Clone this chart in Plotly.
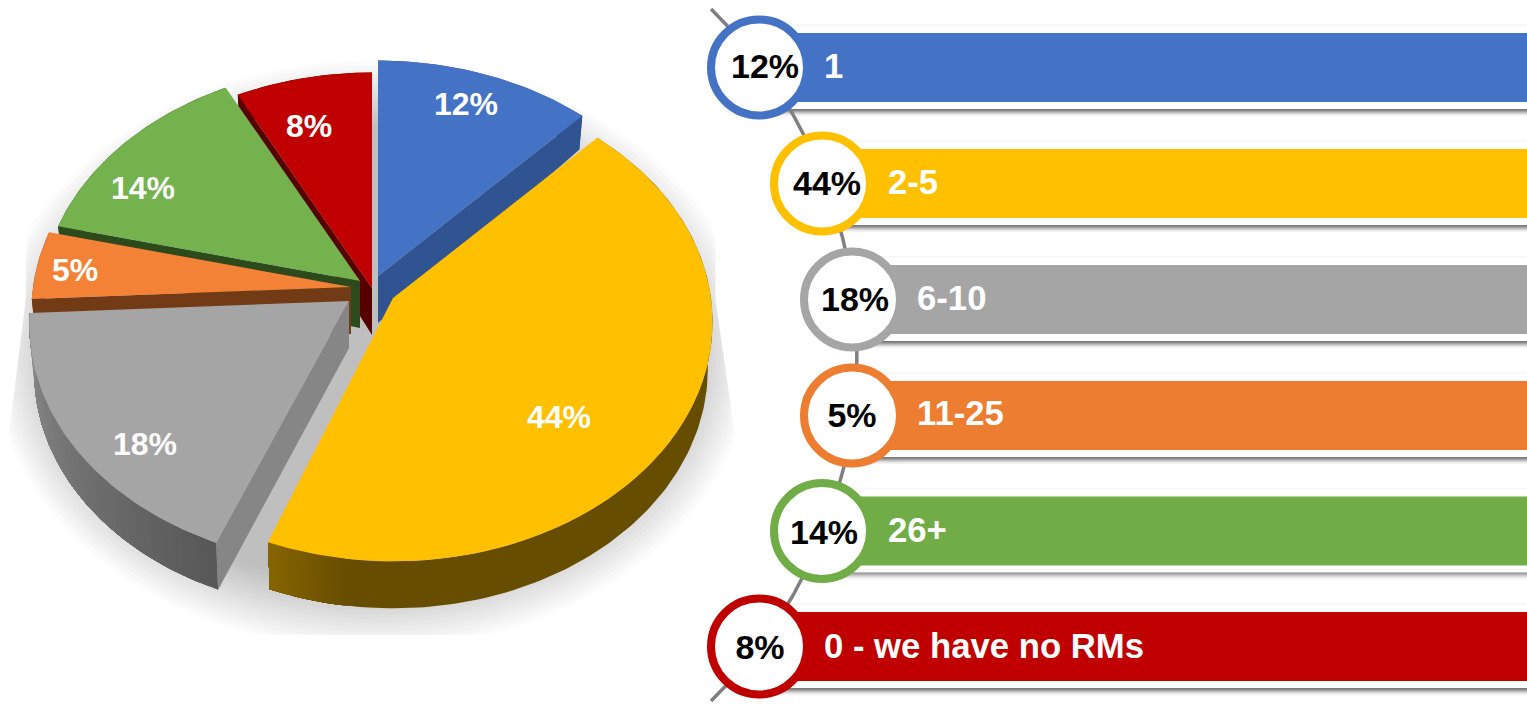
import math
import plotly.graph_objects as go

# ---- data ----
bar_labels = ["1", "2-5", "6-10", "11-25", "26+", "0 - we have no RMs"]
pct_labels = ["12%", "44%", "18%", "5%", "14%", "8%"]
shares = [12.1, 43.7, 18.4, 4.6, 13.6, 7.6]
start_nudge = [0, 0, 1.4, 0, 0, 0]
top_colors = ["#4472C4", "#FFC000", "#A5A5A5", "#F38136", "#74B24E", "#C00000"]
bar_colors = ["#4472C4", "#FFC000", "#A5A5A5", "#ED7D31", "#70AD47", "#C00000"]
side_colors = ["#2F5491", "#6B5000", "#868686", "#723B16", "#2C4A1B", "#560000"]
rim_from = ["#2F5491", "#866500", "#8E8E8E", "#723B16", "#2C4A1B", "#560000"]
rim_to = ["#2F5491", "#674D00", "#585858", "#723B16", "#2C4A1B", "#560000"]

apex_x = [378, 393, 349, 351, 360, 372]
apex_y = [276, 298, 301, 287, 281, 288]
pie_label_x = [466, 559, 145, 75, 143, 309]
pie_label_y = [107, 420, 447, 273, 191, 129]
side_wall_edge = ["end", None, "start", "start", "start", "start"]  # visible cut face of each slice
draw_order = [5, 0, 4, 3, 2, 1]

bar_left = [759, 822, 852, 852, 822, 759]
bar_center = [67.5, 183.5, 299.5, 415.5, 531, 646.5]
circle_label_x = [765, 827, 855, 852, 824, 760]
circle_label_y = [69, 186, 302, 418, 535, 650]
bar_label_x = [824, 888, 917, 917, 888, 824]
bar_label_y = [69, 185, 301, 416, 533, 649]

W, H = 1527, 704
RX, RY, PERSP, DEPTH = 318, 237, 0.10, 47


def rim(theta_deg):
    t = math.radians(theta_deg)
    s = 1 / (1 + PERSP * math.cos(t))
    return RX * math.sin(t) * s, -RY * math.cos(t) * s


def lower(theta_deg):
    x, y = rim(theta_deg)
    d = DEPTH - 18 * max(0.0, math.cos(math.radians(theta_deg)))
    return x * 0.985, y + d


def hex_mix(a, b, f):
    ca = [int(a[i:i + 2], 16) for i in (1, 3, 5)]
    cb = [int(b[i:i + 2], 16) for i in (1, 3, 5)]
    return "#%02x%02x%02x" % tuple(round(p + (q - p) * f) for p, q in zip(ca, cb))


def poly(fig, xs, ys, color):
    fig.add_trace(go.Scatter(x=xs, y=ys, mode="lines", fill="toself", fillcolor=color,
                             line=dict(color="rgba(0,0,0,0)", width=0), hoverinfo="skip", showlegend=False))


fig = go.Figure()

# soft shadow under the pie
SC_X, SC_Y, S_RX, S_RY = 372, 355, 347, 262


def clamp_shadow(x, y):
    y = min(y, 635)
    y_ref = max(y, 300)
    xl = 22 - (y_ref - 330) * 15 / 117
    xr = 720 + (y_ref - 330) * 17 / 117
    return min(max(x, xl), xr), y


layers = 16
for i in range(layers):
    grow = 32 - i * 64 / (layers - 1)
    xs, ys = [], []
    for a in range(0, 361, 3):
        t = math.radians(a)
        px, py = clamp_shadow(SC_X + (S_RX + grow) * math.cos(t), SC_Y + (S_RY + grow) * math.sin(t))
        xs.append(px)
        ys.append(py)
    poly(fig, xs, ys, "rgba(0,0,0,0.015)")

# pie slices
total = sum(shares)
edges = [0.0]
for v in shares:
    edges.append(edges[-1] + 360 * v / total)

for i in draw_order:
    a0, a1 = edges[i] + start_nudge[i], edges[i + 1]
    ax, ay = apex_x[i], apex_y[i]
    # cut face
    if side_wall_edge[i]:
        a = a0 if side_wall_edge[i] == "start" else a1
        rx_, ry_ = rim(a)
        lx, ly = lower(a)
        poly(fig, [ax, ax + rx_, ax + lx, ax, ax],
             [ay, ay + ry_, ay + ly, ay + DEPTH, ay], side_colors[i])
    # outer wall: each strip overlaps the remainder of the wall, so no seams show
    n = 40 if rim_from[i] != rim_to[i] else 1
    for k in range(n):
        if i == 1:  # yellow: only its left end is lighter
            b0 = 187 + (a1 - 187) * k / n
            start = a0 if k == 0 else b0
            col = hex_mix(rim_to[i], rim_from[i], k / max(1, n - 1))
        else:
            start = a0 + (a1 - a0) * k / n
            col = hex_mix(rim_to[i], rim_from[i], (start - a0) / (a1 - a0))
        end = a1
        m = max(3, int(end - start))
        arc = [start + (end - start) * q / m for q in range(m + 1)]
        xs = [ax + rim(b)[0] for b in arc] + [ax + lower(b)[0] for b in reversed(arc)]
        ys = [ay + rim(b)[1] for b in arc] + [ay + lower(b)[1] for b in reversed(arc)]
        poly(fig, xs + xs[:1], ys + ys[:1], col)
    # top face
    steps = max(3, int(a1 - a0))
    arc = [a0 + (a1 - a0) * q / steps for q in range(steps + 1)]
    xs = [ax] + [ax + rim(b)[0] for b in arc] + [ax]
    ys = [ay] + [ay + rim(b)[1] for b in arc] + [ay]
    poly(fig, xs, ys, top_colors[i])

fig.add_trace(go.Scatter(x=pie_label_x, y=pie_label_y, mode="text", text=pct_labels,
                         textfont=dict(family="Liberation Sans", size=32, color="white", weight="bold"),
                         textposition="middle center", hoverinfo="skip", showlegend=False))

# right-hand list: bars
for i, name in enumerate(bar_labels):
    fig.add_trace(go.Bar(y=[bar_center[i]], x=[W - bar_left[i]], base=[bar_left[i]], width=[69],
                         orientation="h", marker=dict(color=bar_colors[i], line=dict(width=0)),
                         hoverinfo="skip", showlegend=False))

# bar shadows
shapes = []
fade = ["#7a7a7a", "#8a8a8a", "#a4a4a4", "#bebebe", "#d6d6d6", "#e8e8e8", "#f4f4f4", "#fbfbfb"]
for i in range(6):
    bottom = bar_center[i] + 34.5
    top = bar_center[i] - 34.5
    for j, c in enumerate(fade):
        shapes.append(dict(type="rect", xref="x", yref="y", layer="below",
                           x0=bar_left[i], x1=W, y0=bottom + 7 + j, y1=bottom + 8 + j,
                           fillcolor=c, line=dict(width=0)))
    shapes.append(dict(type="rect", xref="x", yref="y", layer="below",
                       x0=bar_left[i], x1=W, y0=top - 9, y1=top - 7,
                       fillcolor="#f8f8f8", line=dict(width=0)))

# connecting arc
ARC_X, ARC_Y, ARC_R = 374, 355, 483
arc_y = list(range(9, 705, 4))
arc_x = [ARC_X + math.sqrt(ARC_R ** 2 - (y - ARC_Y) ** 2) for y in arc_y]
fig.add_trace(go.Scatter(x=arc_x, y=arc_y, mode="lines", line=dict(color="#808080", width=3.5),
                         hoverinfo="skip", showlegend=False))

# circles
fig.add_trace(go.Scatter(x=bar_left, y=bar_center, mode="markers",
                         marker=dict(size=96, color="white", line=dict(color=bar_colors, width=8)),
                         hoverinfo="skip", showlegend=False))
fig.add_trace(go.Scatter(x=circle_label_x, y=circle_label_y, mode="text", text=pct_labels,
                         textfont=dict(family="Liberation Sans", size=34, color="black", weight="bold"),
                         textposition="middle center", hoverinfo="skip", showlegend=False))
fig.add_trace(go.Scatter(x=bar_label_x, y=bar_label_y, mode="text", text=bar_labels,
                         textfont=dict(family="Liberation Sans", size=34.7, color="white", weight="bold"),
                         textposition="middle right", hoverinfo="skip", showlegend=False))

fig.update_layout(
    width=W, height=H, margin=dict(l=0, r=0, t=0, b=0, pad=0),
    paper_bgcolor="white", plot_bgcolor="white", showlegend=False, barmode="overlay",
    xaxis=dict(range=[0, W], visible=False, fixedrange=True),
    yaxis=dict(range=[H, 0], visible=False, fixedrange=True),
    shapes=shapes,
)
fig.write_html("out.html", config={"displayModeBar": False},
               post_script="document.body.style.margin='0';document.body.style.overflow='hidden';")
